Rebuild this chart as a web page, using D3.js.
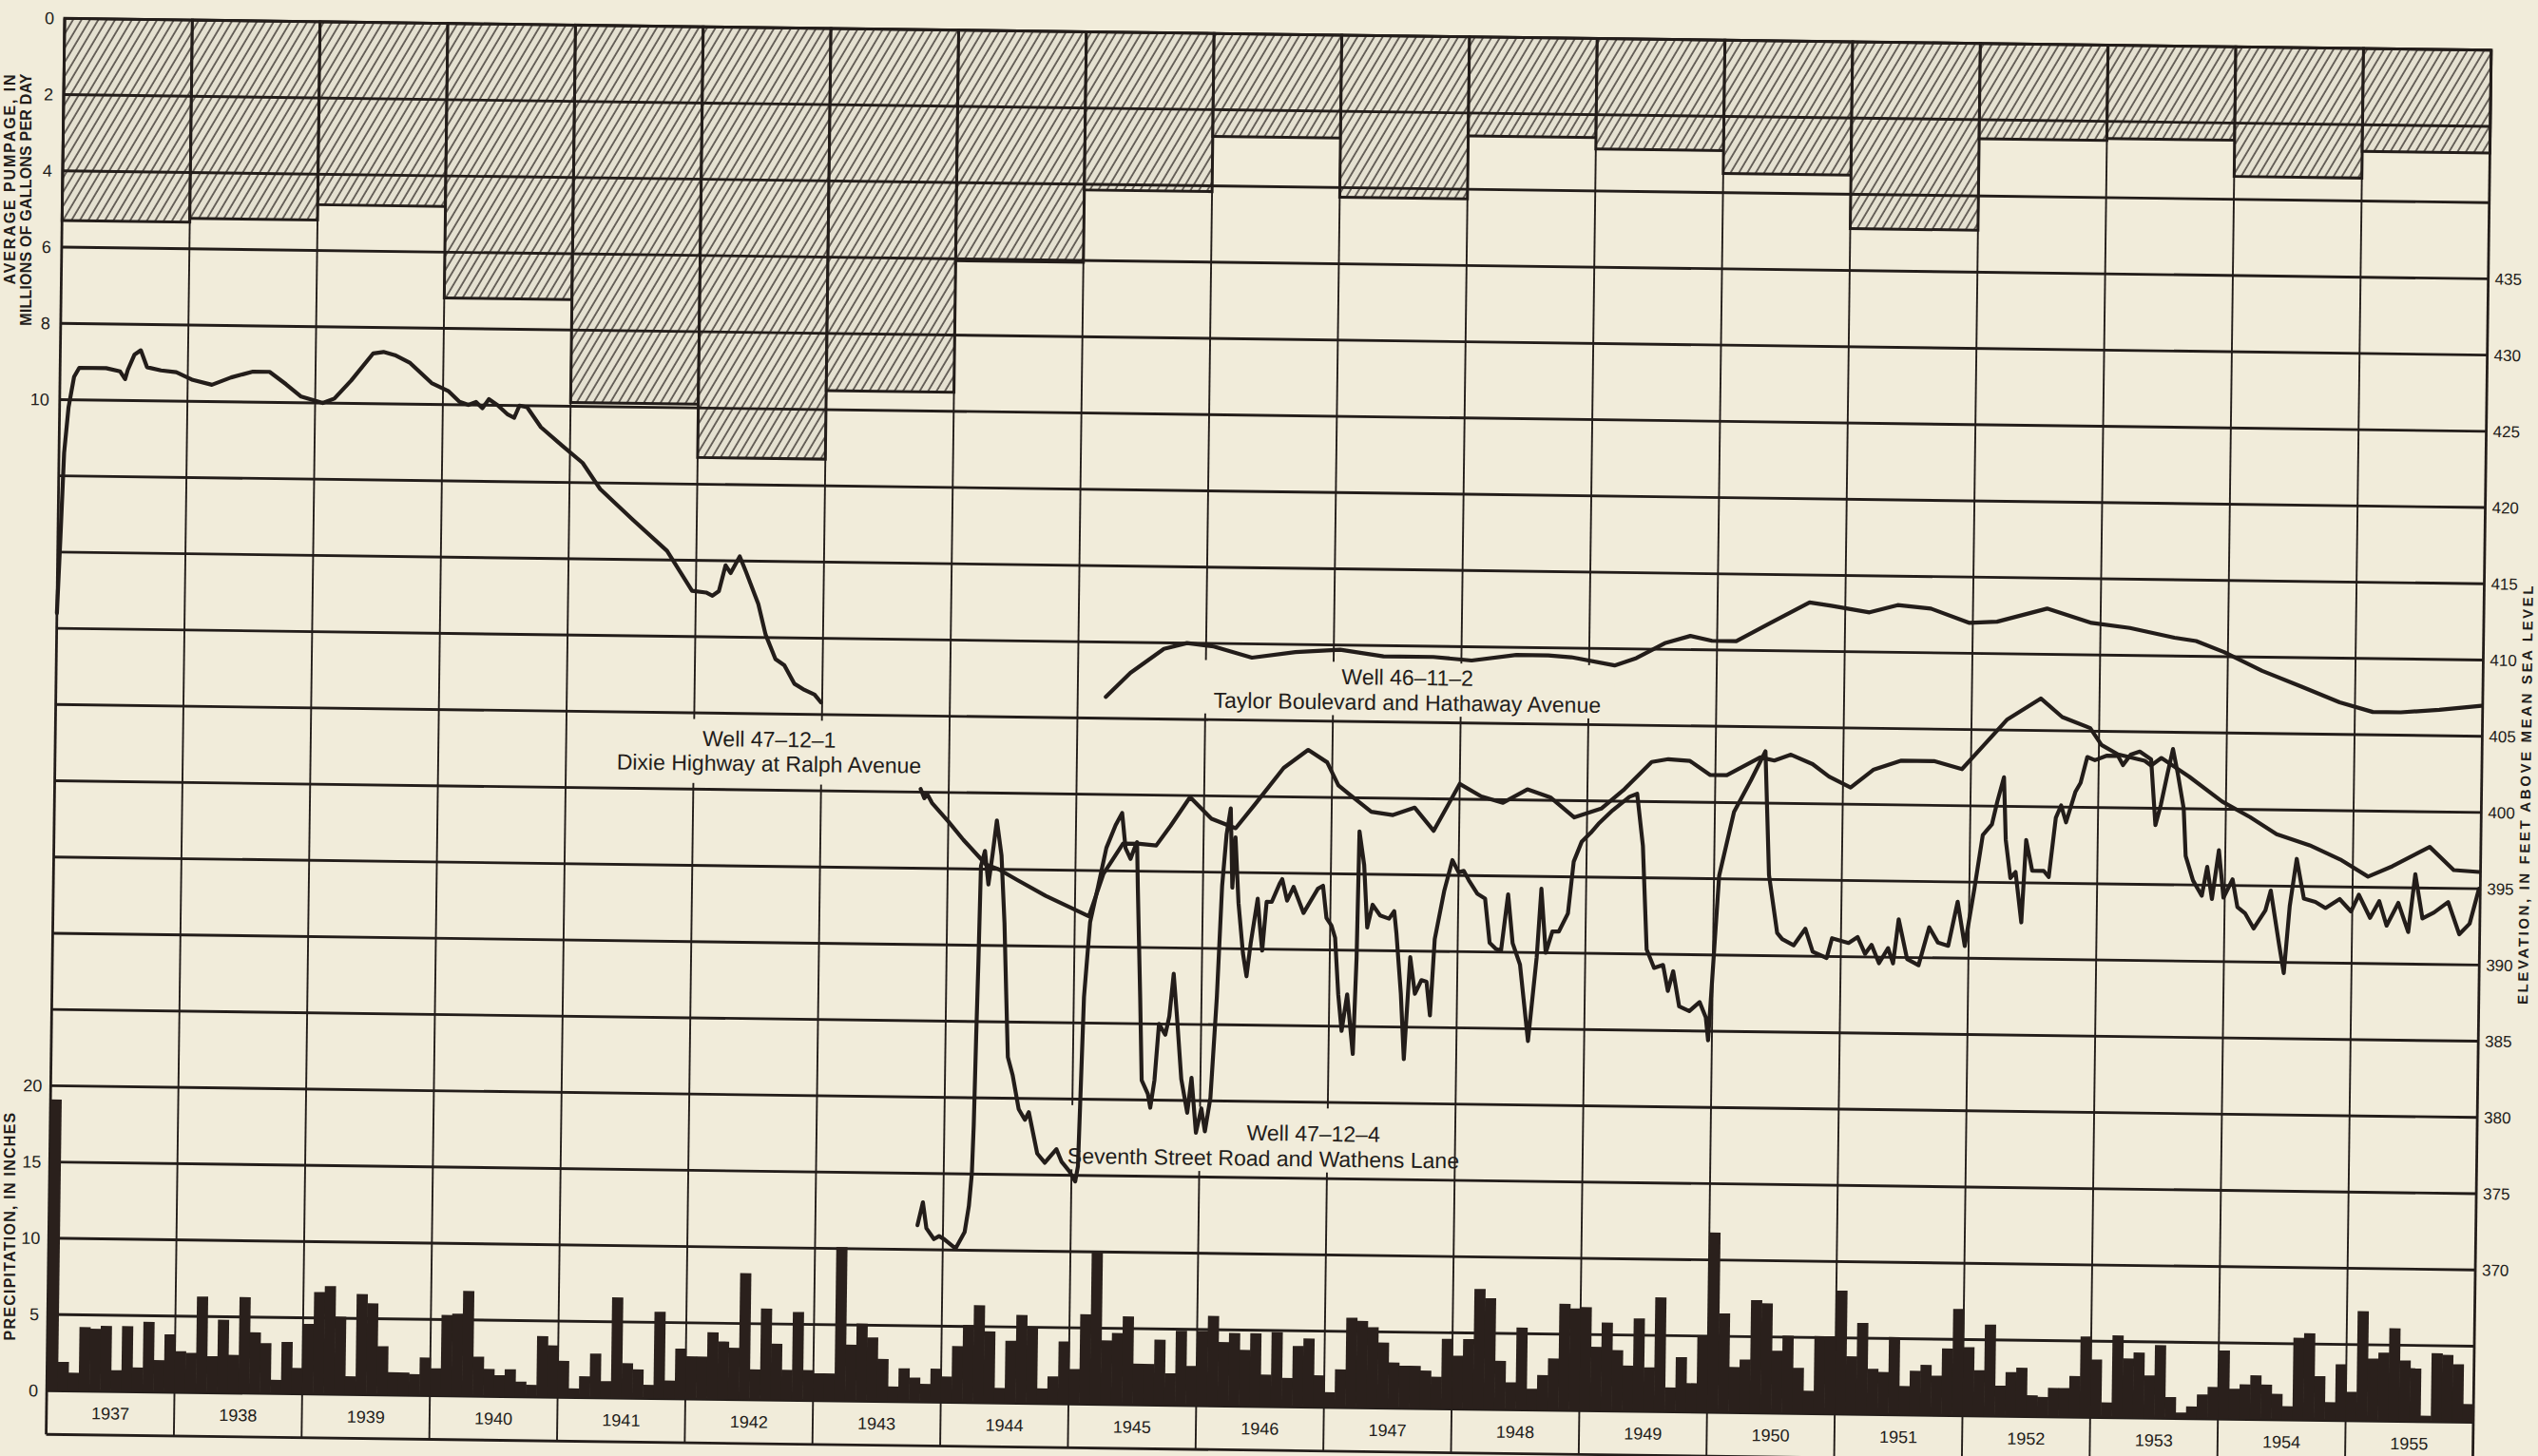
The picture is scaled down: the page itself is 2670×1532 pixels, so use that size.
<!DOCTYPE html>
<html>
<head>
<meta charset="utf-8">
<script src="https://cdn.jsdelivr.net/npm/d3@7"></script>
<style>
  html, body { margin: 0; padding: 0; background: #f1ecda; }
  svg { display: block; }
</style>
</head>
<body>
<div id="chart"></div>
<script>
// water years shown along the bottom
const years = [1937, 1938, 1939, 1940, 1941, 1942, 1943, 1944, 1945, 1946,
  1947, 1948, 1949, 1950, 1951, 1952, 1953, 1954, 1955];

// average pumpage, millions of gallons per day (hatched bars hanging from top)
const pumpage = [5.3, 5.2, 4.8, 7.2, 9.9, 11.3, 9.5, 6.05, 4.15, 2.7,
  4.25, 2.6, 2.9, 3.5, 4.9, 2.5, 2.45, 3.4, 2.7];

const pumpTicks = [0, 2, 4, 6, 8, 10];
const precipTicks = [0, 5, 10, 15, 20];
const elevTicks = [435, 430, 425, 420, 415, 410, 405, 400, 395, 390, 385, 380, 375, 370];

// monthly precipitation, inches (one row per year, Jan..Dec)
const monthlyPrecip = [
  [19.1, 1.9, 1.2, 4.2, 4.1, 4.3, 1.4, 4.3, 1.6, 4.6, 2.1, 3.8],
  [2.7, 2.6, 6.3, 2.4, 4.8, 2.5, 6.3, 4.0, 3.3, 0.9, 3.4, 1.7],
  [4.6, 6.7, 7.1, 5.1, 1.2, 6.6, 6.0, 3.2, 1.5, 1.5, 1.4, 2.5],
  [1.8, 5.3, 5.4, 6.9, 2.6, 1.8, 1.4, 1.8, 1.0, 0.8, 4.0, 3.4],
  [2.4, 0.6, 1.4, 2.9, 1.1, 6.6, 2.3, 1.9, 0.9, 5.7, 1.2, 3.3],
  [2.8, 2.8, 4.4, 3.8, 3.4, 8.3, 2.0, 6.0, 3.7, 2.0, 5.8, 2.0],
  [1.8, 1.8, 10.1, 3.7, 5.1, 4.2, 2.8, 1.0, 2.2, 1.6, 1.2, 2.2],
  [1.7, 3.7, 5.1, 6.4, 4.7, 1.0, 4.1, 5.8, 5.0, 1.0, 1.8, 4.1],
  [2.3, 5.9, 10.0, 4.2, 4.7, 5.8, 2.7, 2.7, 4.3, 2.1, 4.9, 2.6],
  [4.9, 5.9, 4.2, 4.8, 3.7, 4.8, 2.1, 4.9, 1.9, 4.0, 4.5, 2.1],
  [1.0, 2.5, 5.9, 5.7, 5.3, 4.3, 3.0, 2.8, 2.8, 2.5, 2.1, 4.6],
  [3.5, 4.6, 7.9, 7.3, 3.2, 1.8, 5.4, 1.4, 2.3, 3.4, 7.0, 6.7],
  [6.8, 4.2, 5.8, 4.0, 3.0, 6.1, 2.9, 7.5, 1.6, 3.6, 1.9, 5.0],
  [11.8, 6.5, 3.0, 3.5, 7.4, 7.2, 4.1, 5.1, 3.0, 1.5, 5.1, 5.1],
  [8.1, 3.8, 6.0, 3.0, 2.8, 5.1, 1.9, 2.9, 3.3, 2.6, 4.4, 7.0],
  [4.5, 3.0, 6.0, 2.0, 2.9, 3.2, 1.4, 1.3, 1.9, 1.9, 2.7, 5.3],
  [3.8, 1.0, 5.4, 3.9, 4.3, 2.8, 4.8, 1.4, 0.4, 0.8, 1.6, 2.1],
  [4.5, 2.0, 2.3, 2.9, 2.3, 1.7, 0.9, 5.4, 5.7, 2.9, 1.2, 3.7],
  [1.9, 7.2, 4.1, 4.5, 6.1, 4.0, 3.5, 0.4, 4.5, 4.4, 3.8, 1.2]
];

// water levels, [year, feet above mean sea level]
const well47121Early = [
  [1937.00, 411.0], [1937.02, 416.0], [1937.04, 421.5], [1937.07, 424.5], [1937.09, 425.5],
  [1937.11, 426.5], [1937.15, 427.1], [1937.36, 427.1], [1937.47, 426.9], [1937.51, 426.4],
  [1937.53, 427.0], [1937.58, 428.0], [1937.63, 428.3], [1937.68, 427.2], [1937.79, 427.0],
  [1937.91, 426.9], [1938.04, 426.4], [1938.19, 426.1], [1938.34, 426.6], [1938.51, 427.0],
  [1938.64, 427.0], [1938.77, 426.2], [1938.89, 425.4], [1939.06, 425.0], [1939.15, 425.3],
  [1939.28, 426.5], [1939.45, 428.3], [1939.53, 428.4], [1939.62, 428.2], [1939.74, 427.7],
  [1939.91, 426.4], [1940.04, 425.9], [1940.13, 425.2], [1940.20, 425.0], [1940.26, 425.2],
  [1940.31, 424.8], [1940.36, 425.4], [1940.43, 425.0], [1940.51, 424.4], [1940.56, 424.2],
  [1940.60, 425.0], [1940.66, 424.9], [1940.77, 423.6], [1940.94, 422.4], [1941.10, 421.3],
  [1941.24, 419.6], [1941.50, 417.6], [1941.77, 415.6], [1941.97, 413.0], [1942.08, 412.9],
  [1942.13, 412.7], [1942.18, 413.0], [1942.23, 414.7], [1942.27, 414.2], [1942.34, 415.3],
  [1942.39, 414.3], [1942.49, 412.2], [1942.55, 410.2], [1942.63, 408.6], [1942.70, 408.2],
  [1942.78, 407.0], [1942.86, 406.6], [1942.94, 406.3], [1942.99, 405.8]
];

const well47121Late = [
  [1943.78, 400.2], [1943.81, 399.6], [1943.83, 399.9], [1943.87, 399.3], [1944.00, 398.1],
  [1944.12, 396.9], [1944.30, 395.3], [1944.40, 395.0], [1944.55, 394.3], [1944.77, 393.3],
  [1944.98, 392.5], [1945.11, 392.0], [1945.22, 394.8], [1945.37, 396.8], [1945.50, 396.8],
  [1945.63, 396.7], [1945.74, 398.0], [1945.89, 399.9], [1946.06, 398.5], [1946.25, 397.9],
  [1946.40, 399.5], [1946.62, 401.9], [1946.81, 403.1], [1946.96, 402.3], [1947.05, 400.8],
  [1947.14, 400.2], [1947.31, 399.1], [1947.48, 398.9], [1947.65, 399.4], [1947.80, 397.9],
  [1948.00, 401.0], [1948.17, 400.2], [1948.34, 399.8], [1948.53, 400.7], [1948.71, 400.2],
  [1948.90, 398.9], [1949.11, 399.5], [1949.29, 400.8], [1949.50, 402.6], [1949.63, 402.8],
  [1949.80, 402.7], [1949.96, 401.8], [1950.09, 401.8], [1950.35, 403.0], [1950.46, 402.8],
  [1950.59, 403.2], [1950.76, 402.6], [1950.89, 401.8], [1951.06, 401.1], [1951.24, 402.3],
  [1951.45, 402.9], [1951.71, 402.9], [1951.93, 402.4], [1952.10, 404.0], [1952.28, 405.7],
  [1952.54, 407.1], [1952.71, 405.9], [1952.93, 405.2], [1953.02, 404.1], [1953.15, 403.5],
  [1953.36, 403.1], [1953.41, 402.8], [1953.49, 403.3], [1953.71, 402.1], [1953.97, 400.5],
  [1954.19, 399.5], [1954.40, 398.4], [1954.66, 397.7], [1954.90, 396.8], [1955.12, 395.7],
  [1955.31, 396.4], [1955.60, 397.7], [1955.79, 396.2], [1955.99, 396.1]
];

const well46112 = [
  [1945.22, 406.4], [1945.41, 408.0], [1945.67, 409.6], [1945.85, 410.0], [1946.06, 409.8],
  [1946.36, 409.1], [1946.70, 409.5], [1947.05, 409.7], [1947.39, 409.3], [1947.78, 409.3],
  [1948.08, 409.1], [1948.43, 409.5], [1948.68, 409.5], [1948.86, 409.4], [1949.20, 408.9],
  [1949.37, 409.4], [1949.59, 410.4], [1949.79, 410.9], [1949.96, 410.6], [1950.15, 410.6],
  [1950.41, 411.8], [1950.72, 413.2], [1950.89, 413.0], [1951.19, 412.6], [1951.41, 413.1],
  [1951.67, 412.9], [1951.97, 412.0], [1952.19, 412.1], [1952.58, 413.0], [1952.93, 412.1],
  [1953.23, 411.8], [1953.58, 411.2], [1953.75, 411.0], [1953.97, 410.3], [1954.27, 409.1],
  [1954.58, 408.1], [1954.88, 407.1], [1955.14, 406.5], [1955.36, 406.5], [1955.66, 406.7],
  [1955.99, 407.0]
];

const well47124 = [
  [1943.80, 371.6], [1943.84, 373.1], [1943.87, 371.4], [1943.93, 370.7], [1943.97, 370.9],
  [1944.01, 370.7], [1944.10, 370.1], [1944.17, 371.2], [1944.20, 372.9], [1944.22, 375.0],
  [1944.23, 378.2], [1944.24, 384.0], [1944.25, 389.0], [1944.26, 395.2], [1944.29, 396.2],
  [1944.32, 394.0], [1944.35, 396.0], [1944.38, 398.2], [1944.42, 395.9], [1944.45, 391.5],
  [1944.47, 387.0], [1944.49, 382.7], [1944.53, 381.5], [1944.58, 379.3], [1944.63, 378.6],
  [1944.66, 379.1], [1944.73, 376.4], [1944.79, 375.8], [1944.88, 376.7], [1944.92, 375.9],
  [1944.98, 375.3], [1945.03, 374.6], [1945.05, 375.6], [1945.08, 386.7], [1945.12, 391.6],
  [1945.18, 394.0], [1945.24, 396.5], [1945.31, 398.0], [1945.36, 398.8], [1945.39, 396.5],
  [1945.43, 395.8], [1945.46, 396.5], [1945.48, 396.9], [1945.49, 394.0], [1945.52, 386.7],
  [1945.54, 381.3], [1945.59, 380.4], [1945.61, 379.5], [1945.64, 381.3], [1945.67, 385.0],
  [1945.72, 384.3], [1945.75, 385.5], [1945.78, 388.3], [1945.81, 385.5], [1945.85, 381.4],
  [1945.90, 379.2], [1945.93, 381.5], [1945.97, 377.9], [1946.01, 379.5], [1946.04, 378.0],
  [1946.08, 380.2], [1946.12, 386.8], [1946.15, 394.1], [1946.18, 397.5], [1946.21, 399.2],
  [1946.23, 394.0], [1946.25, 397.3], [1946.28, 393.0], [1946.32, 389.7], [1946.35, 388.2],
  [1946.38, 390.4], [1946.43, 393.3], [1946.45, 391.5], [1946.47, 389.9], [1946.50, 393.1],
  [1946.54, 393.1], [1946.60, 394.3], [1946.62, 394.6], [1946.66, 393.2], [1946.71, 394.1],
  [1946.79, 392.4], [1946.90, 394.0], [1946.94, 394.2], [1946.97, 392.1], [1947.01, 391.6],
  [1947.04, 390.8], [1947.07, 387.1], [1947.10, 384.7], [1947.14, 387.1], [1947.19, 383.2],
  [1947.21, 389.5], [1947.22, 397.8], [1947.26, 395.6], [1947.29, 391.5], [1947.33, 393.0],
  [1947.39, 392.3], [1947.46, 392.1], [1947.50, 392.6], [1947.52, 391.1], [1947.56, 387.2],
  [1947.59, 382.9], [1947.63, 389.6], [1947.67, 387.2], [1947.72, 388.1], [1947.76, 388.0],
  [1947.79, 385.8], [1947.82, 390.8], [1947.89, 394.0], [1947.95, 396.0], [1948.00, 395.2],
  [1948.04, 395.3], [1948.08, 394.7], [1948.15, 393.8], [1948.21, 393.5], [1948.25, 390.6],
  [1948.30, 390.2], [1948.34, 390.1], [1948.39, 393.8], [1948.43, 390.6], [1948.49, 389.2],
  [1948.56, 384.2], [1948.62, 389.7], [1948.65, 394.2], [1948.69, 390.0], [1948.74, 391.4],
  [1948.79, 391.4], [1948.86, 392.6], [1948.90, 396.0], [1948.96, 397.3], [1949.03, 397.9],
  [1949.09, 398.5], [1949.20, 399.4], [1949.33, 400.3], [1949.39, 400.5], [1949.44, 397.1],
  [1949.48, 390.3], [1949.54, 389.1], [1949.61, 389.3], [1949.65, 387.6], [1949.69, 388.9],
  [1949.74, 386.6], [1949.82, 386.3], [1949.90, 386.9], [1949.95, 385.9], [1949.97, 384.4],
  [1950.00, 389.0], [1950.04, 395.2], [1950.15, 399.4], [1950.28, 401.5], [1950.39, 403.4],
  [1950.43, 395.3], [1950.50, 391.5], [1950.54, 391.1], [1950.63, 390.7], [1950.72, 391.8],
  [1950.78, 390.3], [1950.89, 389.9], [1950.93, 391.2], [1951.06, 390.9], [1951.13, 391.3],
  [1951.19, 390.2], [1951.24, 390.8], [1951.30, 389.6], [1951.37, 390.6], [1951.41, 389.6],
  [1951.45, 392.5], [1951.52, 389.9], [1951.61, 389.5], [1951.69, 392.0], [1951.76, 391.0],
  [1951.84, 390.8], [1951.91, 393.7], [1951.97, 390.8], [1952.04, 394.6], [1952.10, 398.1],
  [1952.17, 398.8], [1952.21, 400.3], [1952.26, 401.9], [1952.28, 397.8], [1952.32, 395.3],
  [1952.36, 395.7], [1952.41, 392.4], [1952.44, 397.8], [1952.49, 395.8], [1952.58, 395.8],
  [1952.62, 395.4], [1952.67, 399.3], [1952.71, 400.1], [1952.75, 399.0], [1952.82, 401.0],
  [1952.86, 401.6], [1952.91, 403.3], [1952.97, 403.1], [1953.06, 403.4], [1953.15, 403.4],
  [1953.19, 402.8], [1953.25, 403.5], [1953.32, 403.7], [1953.41, 403.2], [1953.45, 398.9],
  [1953.49, 400.2], [1953.54, 402.3], [1953.58, 403.9], [1953.62, 402.3], [1953.67, 400.0],
  [1953.69, 396.9], [1953.75, 395.3], [1953.82, 394.3], [1953.86, 396.2], [1953.90, 394.1],
  [1953.95, 397.3], [1953.99, 394.2], [1954.06, 395.4], [1954.10, 393.6], [1954.16, 393.2],
  [1954.23, 392.2], [1954.32, 393.4], [1954.36, 394.7], [1954.43, 391.2], [1954.47, 389.3],
  [1954.51, 393.7], [1954.56, 396.8], [1954.62, 394.2], [1954.71, 394.0], [1954.79, 393.6],
  [1954.90, 394.2], [1954.99, 393.4], [1955.05, 394.5], [1955.14, 393.0], [1955.21, 394.1],
  [1955.27, 392.5], [1955.36, 394.0], [1955.44, 392.1], [1955.49, 395.9], [1955.55, 393.0],
  [1955.64, 393.4], [1955.75, 394.1], [1955.84, 392.0], [1955.92, 392.7], [1955.99, 395.0]
];

function main() {
  const width = 2670;
  const height = 1532;
  const left = 58.5, right = 2611.5, top = 36, bottom = 1480;
  const labelRow = 46;
  const ink = "#231d1a";
  const paper = "#f1ecda";
  const font = "'Liberation Sans', Arial, sans-serif";

  const svg = d3
    .select("#chart")
    .append("svg")
    .attr("width", width)
    .attr("height", height);

  svg.append("rect").attr("width", width).attr("height", height).attr("fill", paper);

  // diagonal hatching for the pumpage bars
  const pattern = svg
    .append("defs")
    .append("pattern")
    .attr("id", "hatch")
    .attr("patternUnits", "userSpaceOnUse")
    .attr("width", 7.6)
    .attr("height", 20)
    .attr("patternTransform", "rotate(30)");
  pattern.append("rect").attr("width", 7.6).attr("height", 20).attr("fill", "#e5e1d1");
  pattern
    .append("line")
    .attr("x1", 1).attr("x2", 1).attr("y1", 0).attr("y2", 20)
    .attr("stroke", "#37312c")
    .attr("stroke-width", 1.4);

  // the scanned sheet sits slightly askew
  const g = svg.append("g").attr("transform", "rotate(0.75 1335 758)");

  const x = d3.scaleLinear().domain([1937, 1956]).range([left, right]);
  const yPump = d3.scaleLinear().domain([0, 36]).range([top, bottom]);
  const yElev = d3.scaleLinear().domain([450, 360]).range([top, bottom]);
  const yPrecip = d3.scaleLinear().domain([90, 0]).range([top, bottom]);

  // pumpage bars
  g.selectAll(".pump")
    .data(years)
    .enter()
    .append("rect")
    .attr("class", "pump")
    .attr("x", (d) => x(d))
    .attr("y", yPump(0))
    .attr("width", (d) => x(d + 1) - x(d))
    .attr("height", (d, i) => yPump(pumpage[i]) - yPump(0))
    .attr("fill", "url(#hatch)")
    .attr("stroke", ink)
    .attr("stroke-width", 3);

  // grid
  const rows = d3.range(360, 451, 5);
  g.selectAll(".hline")
    .data(rows)
    .enter()
    .append("line")
    .attr("x1", left)
    .attr("x2", right)
    .attr("y1", (d) => yElev(d))
    .attr("y2", (d) => yElev(d))
    .attr("stroke", ink)
    .attr("stroke-width", 2.9);

  g.selectAll(".vline")
    .data(years.concat([1956]))
    .enter()
    .append("line")
    .attr("x1", (d) => x(d))
    .attr("x2", (d) => x(d))
    .attr("y1", top)
    .attr("y2", bottom + labelRow)
    .attr("stroke", ink)
    .attr("stroke-width", (d) => (d === 1937 || d === 1956 ? 2.8 : 1.9));

  g.append("line")
    .attr("x1", left)
    .attr("x2", right)
    .attr("y1", bottom + labelRow)
    .attr("y2", bottom + labelRow)
    .attr("stroke", ink)
    .attr("stroke-width", 2.8);

  // well labels sit on blank patches of paper
  const labels = [
    { t0: 1941.1, t1: 1943.95, e0: 404.6, e1: 400.4, t: 1942.59,
      lines: [["Well 47\u201312\u20131", 403.35], ["Dixie Highway at Ralph Avenue", 401.75]] },
    { t0: 1945.95, t1: 1949.2, e0: 408.9, e1: 405.4, t: 1947.58,
      lines: [["Well 46\u201311\u20132", 407.95], ["Taylor Boulevard and Hathaway Avenue", 406.3]] },
    { t0: 1944.95, t1: 1947.85, e0: 379.6, e1: 375.4, t: 1946.6,
      lines: [["Well 47\u201312\u20134", 377.96, 1946.89], ["Seventh Street Road and Wathens Lane", 376.3, 1946.5]] }
  ];

  labels.forEach((l) => {
    g.append("rect")
      .attr("x", x(l.t0))
      .attr("y", yElev(l.e0))
      .attr("width", x(l.t1) - x(l.t0))
      .attr("height", yElev(l.e1) - yElev(l.e0))
      .attr("fill", paper);
    l.lines.forEach((ln) => {
      g.append("text")
        .attr("x", x(ln[2] || l.t))
        .attr("y", yElev(ln[1]))
        .attr("dy", "0.36em")
        .attr("text-anchor", "middle")
        .attr("font-family", font)
        .attr("font-size", 23)
        .attr("fill", ink)
        .text(ln[0]);
    });
  });

  // water level hydrographs
  const line = d3
    .line()
    .x((d) => x(d[0]))
    .y((d) => yElev(d[1]));

  [well47121Early, well47121Late, well46112, well47124].forEach((series) => {
    g.append("path")
      .attr("d", line(series))
      .attr("fill", "none")
      .attr("stroke", ink)
      .attr("stroke-width", 4.2)
      .attr("stroke-linejoin", "round")
      .attr("stroke-linecap", "round");
  });

  // monthly precipitation
  const months = years.flatMap((yr, i) =>
    monthlyPrecip[i].map((v, m) => ({ t: yr + m / 12, v: v }))
  );
  g.selectAll(".precip")
    .data(months)
    .enter()
    .append("rect")
    .attr("x", (d) => x(d.t))
    .attr("width", x(1937 + 1 / 12) - x(1937) + 0.6)
    .attr("y", (d) => yPrecip(d.v))
    .attr("height", (d) => yPrecip(0) - yPrecip(d.v))
    .attr("fill", "#2a201c");

  // axes
  const styleAxis = (size) => (sel) => {
    sel.select(".domain").remove();
    sel.attr("font-family", font).attr("font-size", size);
    sel.selectAll("text").attr("fill", ink);
  };

  g.append("g")
    .attr("transform", `translate(${left},0)`)
    .call(d3.axisLeft(yPump).tickValues(pumpTicks).tickSize(0).tickPadding(11))
    .call(styleAxis(18));

  g.append("g")
    .attr("transform", `translate(${left},0)`)
    .call(d3.axisLeft(yPrecip).tickValues(precipTicks).tickSize(0).tickPadding(9))
    .call(styleAxis(18));

  g.append("g")
    .attr("transform", `translate(${right},0)`)
    .call(d3.axisRight(yElev).tickValues(elevTicks).tickSize(0).tickPadding(7))
    .call(styleAxis(17));

  // year captions
  g.selectAll(".year")
    .data(years)
    .enter()
    .append("text")
    .attr("x", (d) => x(d + 0.5))
    .attr("y", bottom + labelRow / 2)
    .attr("dy", "0.36em")
    .attr("text-anchor", "middle")
    .attr("font-family", font)
    .attr("font-size", 18)
    .attr("fill", ink)
    .text((d) => d);

  // axis titles
  const titles = [
    { text: "AVERAGE PUMPAGE, IN", x: 10, y: 188, ls: 1.9 },
    { text: "MILLIONS OF GALLONS PER DAY", x: 27, y: 210, ls: 0.2 },
    { text: "PRECIPITATION, IN INCHES", x: 10, y: 1290, ls: 1.25 }
  ];
  titles.forEach((t) => {
    svg.append("text")
      .attr("transform", `translate(${t.x},${t.y}) rotate(-90)`)
      .attr("dy", "0.36em")
      .attr("text-anchor", "middle")
      .attr("font-family", font)
      .attr("font-size", 16)
      .attr("font-weight", "bold")
      .attr("letter-spacing", t.ls)
      .attr("fill", ink)
      .text(t.text);
  });

  g.append("text")
    .attr("transform", `translate(${right + 46},${yElev(401.25)}) rotate(-90)`)
    .attr("dy", "0.36em")
    .attr("text-anchor", "middle")
    .attr("font-family", font)
    .attr("font-size", 15)
    .attr("font-weight", "bold")
    .attr("letter-spacing", 2.6)
    .attr("fill", ink)
    .text("ELEVATION, IN FEET ABOVE MEAN SEA LEVEL");
}

main();
</script>
</body>
</html>
